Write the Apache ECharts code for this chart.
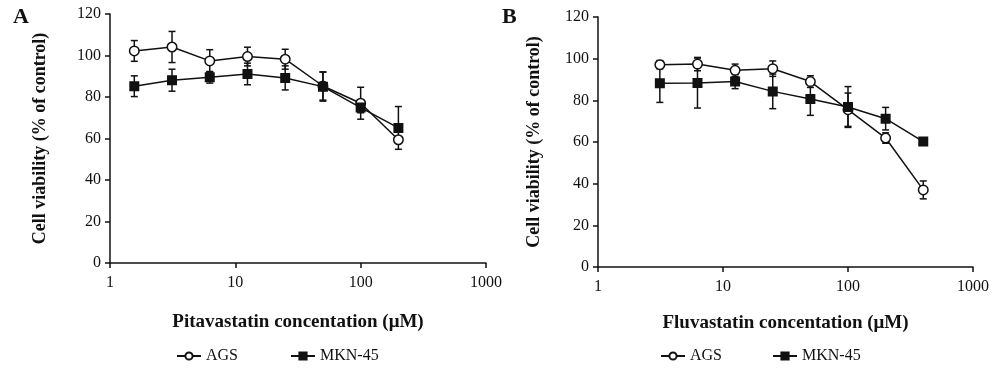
<!DOCTYPE html>
<html>
<head>
<meta charset="utf-8">
<script src="https://cdn.jsdelivr.net/npm/echarts@6/dist/echarts.min.js"></script>
<style>
  html, body { margin: 0; padding: 0; background: #fff; }
  #chart { width: 1000px; height: 376px; }
</style>
</head>
<body>
<div id="chart"></div>
<script>
// panel A - pitavastatin
const concA = [1.5625, 3.125, 6.25, 12.5, 25, 50, 100, 200]
const agsA = [102.2, 104.1, 97.4, 99.5, 98.2, 85.3, 77.0, 59.4]
const agsAErr = [5, 7.5, 5.4, 4.5, 4.8, 6.8, 7.7, 1.5]
const mknA = [85.2, 88.1, 89.5, 91.1, 89.2, 85.0, 74.9, 65.1]
const mknAErr = [5, 5.3, 2.8, 5.2, 5.8, 7, 2.5, 10.3]

// panel B - fluvastatin
const concB = [3.125, 6.25, 12.5, 25, 50, 100, 200, 400]
const agsB = [97.1, 97.4, 94.4, 95.2, 89.0, 75.5, 61.9, 37.0]
const agsBErr = [2, 3.2, 3, 3.7, 2.8, 8, 2.5, 4.3]
const mknB = [88.2, 88.3, 89.0, 84.3, 80.6, 76.8, 71.2, 60.2]
const mknBErr = [9.2, 12, 3.4, 8.3, 7.8, 9.8, 5.4, 1.5]

const yTicks = [0, 20, 40, 60, 80, 100, 120]
const xTicks = [1, 10, 100, 1000]

const INK = '#111'
const SERIF = '"Liberation Serif", "DejaVu Serif", serif'

const pairs = (xs, ys) => xs.map((x, i) => [x, ys[i]])
const triples = (xs, ys, es) => xs.map((x, i) => [x, ys[i], es[i]])

// 误差线
const errorBarItem = (params, api) => {
  const x = api.value(0)
  const y = api.value(1)
  const e = api.value(2)
  const top = api.coord([x, y + e])
  const bot = api.coord([x, y - e])
  const hw = 3.5
  const style = { stroke: INK, lineWidth: 1.5 }
  return {
    type: 'group',
    children: [
      { type: 'line', shape: { x1: top[0], y1: top[1], x2: bot[0], y2: bot[1] }, style },
      { type: 'line', shape: { x1: top[0] - hw, y1: top[1], x2: top[0] + hw, y2: top[1] }, style },
      { type: 'line', shape: { x1: bot[0] - hw, y1: bot[1], x2: bot[0] + hw, y2: bot[1] }, style }
    ]
  }
}

const xAxisFor = (idx, name, gap) => ({
  type: 'log',
  logBase: 10,
  gridIndex: idx,
  min: xTicks[0],
  max: xTicks[xTicks.length - 1],
  name: name,
  nameLocation: 'middle',
  nameGap: gap,
  nameTextStyle: { fontFamily: SERIF, fontSize: 19, fontWeight: 'bold', color: INK },
  axisLine: { lineStyle: { color: INK, width: 1.5 } },
  axisTick: { show: true, length: 5, lineStyle: { color: INK, width: 1.5 } },
  minorTick: { show: false },
  splitLine: { show: false },
  axisLabel: { fontFamily: SERIF, fontSize: 16, color: INK, margin: 12, formatter: (v) => String(v) }
})

const yAxisFor = (idx, gap) => ({
  type: 'value',
  gridIndex: idx,
  min: yTicks[0],
  max: yTicks[yTicks.length - 1],
  interval: 20,
  name: 'Cell viability (% of control)',
  nameLocation: 'middle',
  nameRotate: 90,
  nameGap: gap,
  nameTextStyle: { fontFamily: SERIF, fontSize: 18, fontWeight: 'bold', color: INK },
  axisLine: { show: true, lineStyle: { color: INK, width: 1.5 } },
  axisTick: { show: true, length: 5, lineStyle: { color: INK, width: 1.5 } },
  splitLine: { show: false },
  axisLabel: { fontFamily: SERIF, fontSize: 16, color: INK, margin: 9 }
})

const lineSeries = (name, idx, data, symbol, filled) => ({
  name: name,
  type: 'line',
  xAxisIndex: idx,
  yAxisIndex: idx,
  data: data,
  symbol: symbol,
  symbolSize: symbol === 'circle' ? 9.5 : 8.5,
  showAllSymbol: true,
  z: 3,
  lineStyle: { color: INK, width: 1.5 },
  itemStyle: { color: filled ? INK : '#fff', borderColor: INK, borderWidth: 1.5 },
  emphasis: { disabled: true },
  animation: false
})

const errSeries = (name, idx, data) => ({
  name: name,
  type: 'custom',
  xAxisIndex: idx,
  yAxisIndex: idx,
  data: data,
  renderItem: errorBarItem,
  z: 1,
  silent: true,
  animation: false
})

const legendFor = (left, gap) => ({
  data: ['AGS', 'MKN-45'],
  left: left,
  top: 348,
  padding: 0,
  itemWidth: 24,
  itemHeight: 9,
  itemGap: gap,
  textStyle: { fontFamily: SERIF, fontSize: 16, color: INK },
  selectedMode: false
})

const chart = echarts.init(document.getElementById('chart'))

const option = {
  backgroundColor: '#fff',
  animation: false,
  grid: [
    { left: 110, right: 514, top: 14, bottom: 113 },
    { left: 598, right: 27, top: 17, bottom: 109 }
  ],
  xAxis: [
    xAxisFor(0, 'Pitavastatin concentation (μM)', 50),
    xAxisFor(1, 'Fluvastatin concentation (μM)', 47)
  ],
  yAxis: [yAxisFor(0, 61), yAxisFor(1, 55)],
  legend: [legendFor(176, 52), legendFor(660, 50)],
  graphic: [
    { type: 'text', left: 13, top: 6, style: { text: 'A', fontFamily: SERIF, fontSize: 22, fontWeight: 'bold', fill: INK } },
    { type: 'text', left: 502, top: 6, style: { text: 'B', fontFamily: SERIF, fontSize: 22, fontWeight: 'bold', fill: INK } }
  ],
  series: [
    lineSeries('AGS', 0, pairs(concA, agsA), 'circle', false),
    lineSeries('MKN-45', 0, pairs(concA, mknA), 'rect', true),
    lineSeries('AGS', 1, pairs(concB, agsB), 'circle', false),
    lineSeries('MKN-45', 1, pairs(concB, mknB), 'rect', true),
    errSeries('AGS err A', 0, triples(concA, agsA, agsAErr)),
    errSeries('MKN-45 err A', 0, triples(concA, mknA, mknAErr)),
    errSeries('AGS err B', 1, triples(concB, agsB, agsBErr)),
    errSeries('MKN-45 err B', 1, triples(concB, mknB, mknBErr))
  ]
}

chart.setOption(option)
</script>
</body>
</html>
